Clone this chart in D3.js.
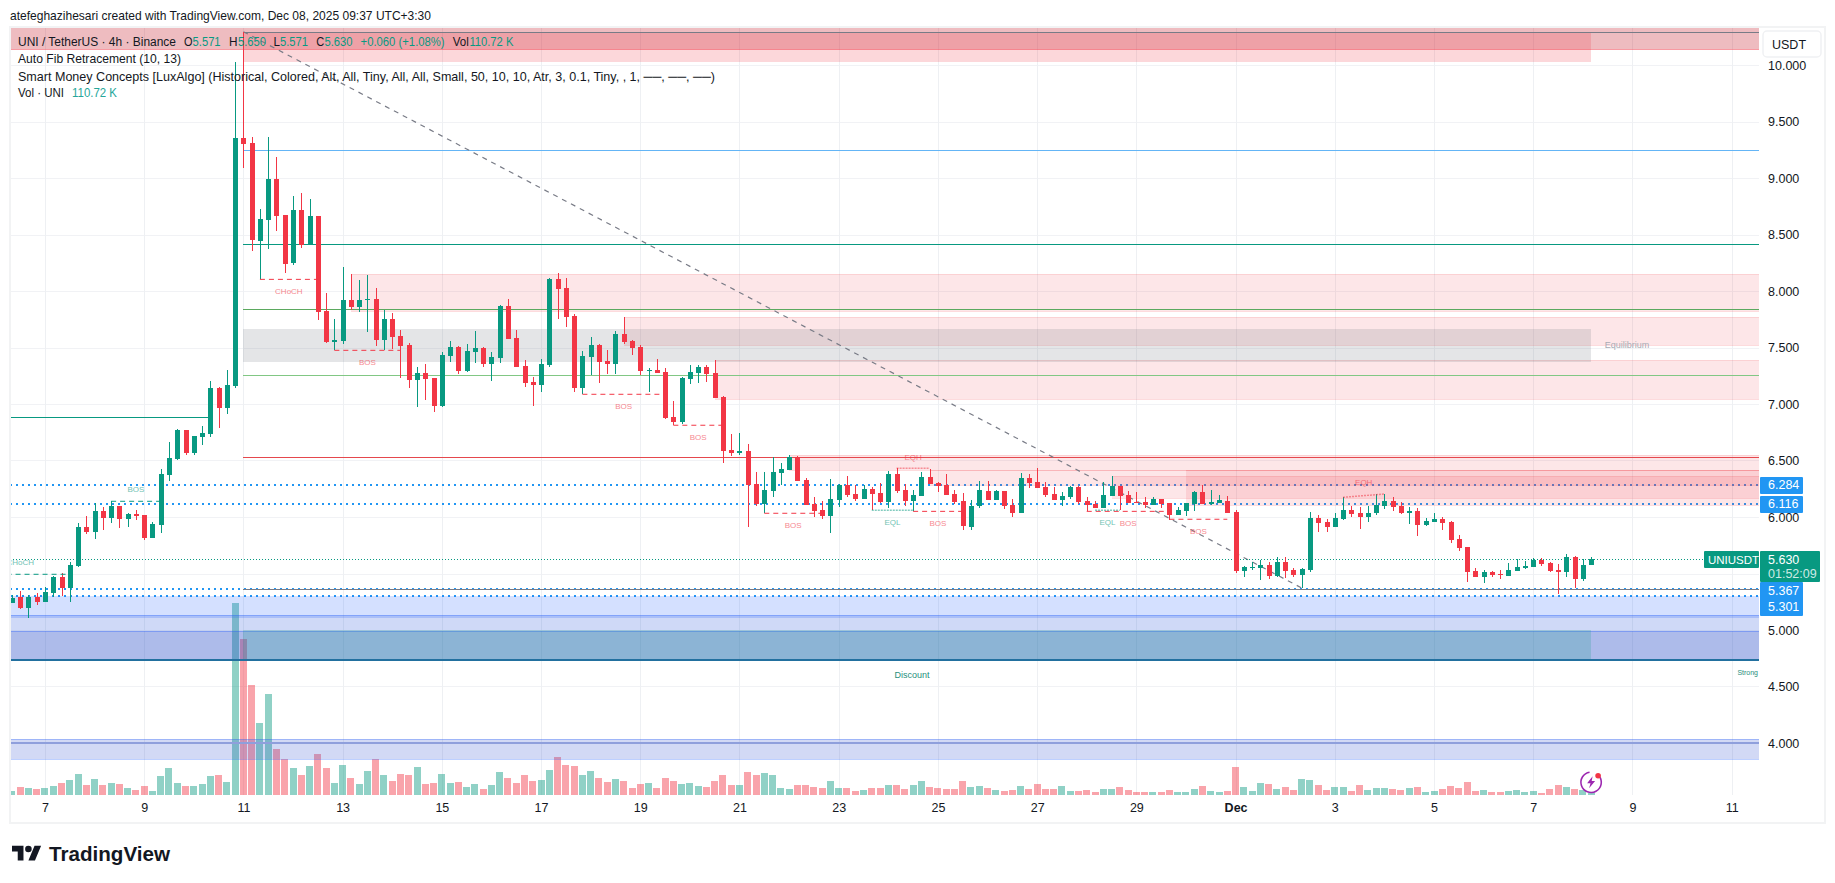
<!DOCTYPE html>
<html>
<head>
<meta charset="utf-8">
<title>UNI / TetherUS 4h</title>
<script src="https://cdn.jsdelivr.net/npm/d3@7/dist/d3.min.js"></script>
<style>
  html, body { margin: 0; padding: 0; background: #fff; }
  svg { display: block; }
  text { font-family: "Liberation Sans", Arial, sans-serif; }
</style>
</head>
<body>
<svg id="chart" width="1835" height="883"></svg>
<script>
// Bars are numbered from the 11 Nov 00:00 session; the earliest bar on screen is -28.
const firstBar = -28;

const opens = [
5.242,5.292,5.198,5.292,5.251,5.330,5.469,5.375,5.566,5.911,
5.870,6.053,5.994,6.097,5.985,6.026,6.017,5.814,5.929,6.372,
6.513,6.770,6.566,6.708,6.735,7.142,6.965,7.159,
9.357,9.307,8.442,8.628,8.991,8.672,8.248,8.717,8.407,8.663,
7.823,7.549,7.558,7.921,7.859,7.921,7.929,7.567,7.752,7.602,
7.522,7.213,7.275,7.230,6.982,7.425,7.505,7.292,7.460,7.496,
7.354,7.407,7.867,7.584,7.336,7.195,7.168,7.345,8.106,8.027,
7.779,7.142,7.416,7.522,7.381,7.354,7.620,7.558,7.505,7.292,
7.301,7.283,6.885,6.841,7.221,7.275,7.328,7.275,7.062,6.593,
6.567,6.584,6.292,6.115,6.230,6.389,6.416,6.531,6.328,6.115,
6.062,6.009,6.151,6.283,6.204,6.159,6.248,6.212,6.133,6.381,
6.239,6.142,6.186,6.354,6.301,6.283,6.204,6.142,5.912,6.097,
6.230,6.151,6.230,6.106,6.035,6.345,6.310,6.266,6.204,6.151,
6.177,6.266,6.142,6.115,6.080,6.186,6.274,6.195,6.133,6.133,
6.106,6.159,6.124,6.018,6.053,6.115,6.221,6.115,6.124,6.142,
6.044,5.522,5.549,5.549,5.575,5.478,5.602,5.531,5.487,5.531,
5.991,5.956,5.912,5.982,6.062,6.035,6.000,6.035,6.097,6.142,
6.097,6.035,6.053,5.929,5.956,5.982,5.956,5.805,5.735,5.522,
5.469,5.513,5.496,5.478,5.522,5.549,5.558,5.620,5.593,5.531,
5.513,5.646,5.451,5.571];

const highs = [
5.310,5.345,5.310,5.327,5.381,5.481,5.501,5.602,5.947,6.009,
6.124,6.088,6.141,6.097,6.035,6.062,6.017,5.956,6.425,6.664,
6.779,6.770,6.717,6.805,7.204,7.150,7.301,10.03,
10.295,9.363,8.725,9.363,9.186,8.672,8.840,8.867,8.814,8.663,
7.982,7.752,8.213,8.151,8.098,8.142,8.027,7.832,7.805,7.655,
7.540,7.328,7.354,7.230,7.460,7.558,7.513,7.531,7.646,7.505,
7.460,7.876,7.929,7.655,7.390,7.239,7.398,8.115,8.159,8.115,
7.797,7.469,7.593,7.531,7.478,7.646,7.770,7.567,7.522,7.319,
7.398,7.319,7.027,7.239,7.345,7.345,7.345,7.390,7.071,6.735,
6.744,6.646,6.398,6.398,6.531,6.478,6.549,6.540,6.345,6.177,
6.142,6.336,6.292,6.363,6.283,6.283,6.266,6.301,6.407,6.434,
6.292,6.239,6.398,6.425,6.310,6.381,6.239,6.212,6.151,6.319,
6.319,6.239,6.230,6.159,6.389,6.381,6.434,6.310,6.266,6.221,
6.274,6.274,6.177,6.142,6.310,6.363,6.274,6.230,6.221,6.177,
6.177,6.159,6.124,6.089,6.124,6.230,6.283,6.239,6.195,6.186,
6.062,5.566,5.602,5.620,5.602,5.646,5.646,5.549,5.549,6.044,
6.018,5.982,6.035,6.177,6.097,6.089,6.097,6.204,6.204,6.177,
6.133,6.089,6.080,5.991,6.035,6.000,5.965,5.841,5.735,5.549,
5.531,5.522,5.531,5.593,5.628,5.611,5.637,5.637,5.602,5.584,
5.673,5.655,5.628,5.650];

const lows = [
5.242,5.186,5.106,5.221,5.251,5.295,5.304,5.251,5.557,5.850,
5.805,5.885,5.947,5.903,5.911,5.973,5.796,5.814,5.858,6.319,
6.504,6.549,6.549,6.637,6.708,6.788,6.912,7.14,
9.091,8.357,8.103,8.371,8.531,8.159,8.230,8.380,8.407,7.744,
7.540,7.478,7.531,7.832,7.814,7.637,7.513,7.478,7.487,7.230,
7.142,6.974,7.036,6.929,6.974,7.372,7.266,7.283,7.363,7.328,
7.204,7.363,7.575,7.328,7.151,6.982,7.106,7.328,7.752,7.682,
7.106,7.089,7.257,7.186,7.266,7.266,7.531,7.434,7.257,7.106,
7.275,6.867,6.814,6.823,7.177,7.186,7.195,7.053,6.478,6.540,
6.549,5.912,6.097,6.033,6.177,6.283,6.416,6.319,6.106,6.000,
5.982,5.858,6.089,6.177,6.142,6.159,6.062,6.124,6.080,6.212,
6.097,6.053,6.186,6.292,6.221,6.195,6.115,5.885,5.885,6.080,
6.151,6.151,6.071,6.000,6.035,6.257,6.257,6.177,6.151,6.097,
6.159,6.115,6.053,6.080,6.080,6.186,6.062,6.124,6.124,6.080,
6.106,6.080,5.974,6.018,6.009,6.053,6.115,6.106,6.124,6.035,
5.505,5.469,5.531,5.443,5.451,5.469,5.460,5.469,5.372,5.513,
5.867,5.867,5.912,5.974,6.000,5.894,5.956,6.018,6.071,6.053,
6.027,5.938,5.832,5.920,5.956,5.885,5.770,5.699,5.425,5.469,
5.416,5.469,5.451,5.478,5.522,5.540,5.558,5.566,5.513,5.319,
5.469,5.372,5.434,5.571];

const closes = [
5.283,5.198,5.292,5.251,5.336,5.469,5.375,5.575,5.911,5.870,
6.053,5.994,6.097,5.985,6.026,6.009,5.814,5.938,6.380,6.522,
6.770,6.566,6.717,6.743,7.142,6.965,7.168,9.356,
9.301,8.451,8.637,8.991,8.663,8.239,8.717,8.407,8.663,7.814,
7.549,7.567,7.921,7.859,7.921,7.929,7.567,7.752,7.593,7.513,
7.213,7.275,7.221,6.982,7.434,7.505,7.292,7.469,7.496,7.354,
7.416,7.867,7.575,7.328,7.186,7.168,7.354,8.106,8.018,7.770,
7.142,7.425,7.522,7.372,7.354,7.620,7.549,7.496,7.292,7.301,
7.275,6.876,6.841,7.230,7.283,7.328,7.266,7.053,6.584,6.567,
6.584,6.283,6.115,6.239,6.398,6.425,6.531,6.319,6.106,6.053,
6.009,6.159,6.283,6.195,6.159,6.248,6.204,6.133,6.381,6.230,
6.142,6.195,6.354,6.292,6.274,6.195,6.133,5.920,6.097,6.239,
6.151,6.230,6.097,6.035,6.345,6.301,6.257,6.195,6.151,6.186,
6.266,6.133,6.106,6.080,6.195,6.274,6.186,6.124,6.124,6.106,
6.159,6.115,6.018,6.062,6.124,6.221,6.115,6.133,6.151,6.035,
5.522,5.558,5.558,5.575,5.478,5.602,5.522,5.487,5.540,5.991,
5.947,5.912,5.991,6.062,6.027,6.000,6.035,6.106,6.142,6.089,
6.035,6.053,5.929,5.965,5.982,5.947,5.797,5.726,5.513,5.469,
5.513,5.487,5.487,5.531,5.558,5.566,5.620,5.584,5.522,5.513,
5.646,5.451,5.575,5.630];

// Volume in thousands of UNI
const volumes = [
220,440,385,330,385,495,660,825,1155,550,
880,550,660,605,385,275,495,220,1045,1485,
660,495,495,605,1045,1100,715,10560,
8580,6050,3960,5555,2530,1980,1485,1100,1595,2255,
1485,660,1650,935,605,1320,1980,1100,770,1155,
1100,1540,605,660,1155,660,715,440,605,330,
550,1265,935,660,1100,770,825,1375,2090,1650,
1595,1100,1320,935,715,880,770,385,605,660,
385,935,770,605,660,495,440,770,1100,550,
550,1265,1100,1210,1100,385,330,550,550,440,
385,770,385,385,220,275,385,385,550,550,
330,550,770,440,385,330,330,770,440,495,
385,275,220,275,495,330,605,330,330,495,
220,220,275,165,330,330,440,275,165,165,
165,165,275,165,165,330,495,220,165,220,
1540,440,220,660,605,330,440,275,880,825,
550,275,440,440,220,550,275,385,385,330,
275,385,440,165,220,330,495,385,715,220,
275,165,165,220,275,165,220,110,330,550,
440,330,275,110.72];

const priceTicks = [4,4.5,5,5.5,6,6.5,7,7.5,8,8.5,9,9.5,10];
const dayTickBars = [-24,-12,0,12,24,36,48,60,72,84,96,108,120,132,144,156,168,180];
const dayTickLabels = ["7","9","11","13","15","17","19","21","23","25","27","29","Dec","3","5","7","9","11"];

// Alert levels drawn as dotted lines and tagged on the price scale
const alertLevels = [6.284, 6.116, 5.367, 5.301];
const lastPrice = 5.630;

// Supply zones: [start bar, top price, bottom price]; they run to the right edge
const supplyZones = [
  [13, 8.150, 7.826], [46, 7.770, 7.525], [57, 7.389, 7.047],
  [66, 6.549, 6.419], [83, 6.419, 6.286], [114, 6.419, 6.109], [105, 6.363, 6.164]
];

// Fibonacci levels from bar 0 to the right edge
const fibUpper = [9.245, 8.413, 7.838, 7.254, 6.528];
const fibTop = 10.295, fibBottom = 5.367;
const equilibrium = [7.660, 7.376];
const premiumRange = [10.295, 10.027];
const discountRange = [5.000, 4.732];

// Structure breaks: [name, start bar, end bar, start price, end price]
const structureDown = [
  ["CHoCH",2,9,8.103,8.103], ["BOS",11,19,7.475,7.475], ["BOS",41,51,7.086,7.086],
  ["BOS",52,58,6.812,6.812], ["BOS",63,70,6.033,6.033], ["BOS",81,87,6.050,6.050],
  ["BOS",102,112,6.050,6.050], ["BOS",112,119,5.980,5.980]
];
const structureUp = [
  ["CHoCH",-33,-21,5.493,5.493], ["BOS",-16,-10,6.139,6.139]
];
const equalHighs = [["EQH",79,83,6.431,6.431], ["EQH",133,138,6.174,6.204]];
const equalLows = [["EQL",76,81,6.059,6.059], ["EQL",103,106,6.059,6.059]];

const UP = "#089981", DOWN = "#f23645";
const bars = opens.map((o, k) => ({
  bar: firstBar + k, o, h: highs[k], l: lows[k], c: closes[k], v: volumes[k]
}));

const svg = d3.select("#chart");
const plot = { left: 10, right: 1759, top: 27, bottom: 795 };

const x = d3.scaleLinear().domain([0, 163]).range([243.4, 1591.1]);
const y = d3.scaleLinear().domain([4, 10]).range([743, 65]);
const yVol = d3.scaleLinear().domain([0, 10560]).range([795, 603]);
const snap = v => Math.round(v) + .5;

svg.append("clipPath").attr("id", "plotClip").append("rect")
  .attr("x", plot.left).attr("y", plot.top)
  .attr("width", plot.right - plot.left).attr("height", plot.bottom - plot.top);

const root = svg.append("g").attr("clip-path", "url(#plotClip)");

// Grid
root.append("g").selectAll("line").data(priceTicks).join("line")
  .attr("x1", plot.left).attr("x2", plot.right)
  .attr("y1", d => snap(y(d))).attr("y2", d => snap(y(d)))
  .attr("stroke", "#f1f2f5");
root.append("g").selectAll("line").data(dayTickBars).join("line")
  .attr("y1", plot.top).attr("y2", plot.bottom)
  .attr("x1", d => snap(x(d))).attr("x2", d => snap(x(d)))
  .attr("stroke", "#eef0f3");

// Volume pane
root.append("g").selectAll("rect").data(bars).join("rect")
  .attr("x", d => Math.round(x(d.bar) - 3.5)).attr("width", 7)
  .attr("y", d => yVol(d.v)).attr("height", d => yVol(0) - yVol(d.v))
  .attr("fill", d => d.c >= d.o ? "rgba(8,153,129,.45)" : "rgba(242,54,69,.45)")
  .attr("shape-rendering", "crispEdges");

// Dotted levels sit under the zones
const levels = root.append("g");
levels.selectAll("line").data(alertLevels).join("line")
  .attr("x1", plot.left).attr("x2", plot.right)
  .attr("y1", d => Math.round(y(d))).attr("y2", d => Math.round(y(d)))
  .attr("stroke", "#2196f3").attr("stroke-width", 2).attr("stroke-dasharray", "2 4");

const zones = root.append("g");
function band(xa, xb, top, bottom, fill) {
  return zones.append("rect").attr("x", Math.round(xa)).attr("width", Math.round(xb) - Math.round(xa))
    .attr("y", Math.round(y(top))).attr("height", Math.round(y(bottom)) - Math.round(y(top))).attr("fill", fill);
}
function hline(xa, xb, price, color, width) {
  const w = width || 1;
  const at = w % 2 ? snap(y(price)) : Math.round(y(price));
  return zones.append("line").attr("x1", Math.round(xa)).attr("x2", Math.round(xb))
    .attr("y1", at).attr("y2", at)
    .attr("stroke", color).attr("stroke-width", w);
}

// Strong high band along the top of the pane
band(plot.left, plot.right, 10.34, 10.144, "rgba(198,32,45,.3)");
hline(plot.left, plot.right, 10.144, "rgba(242,54,69,.5)");
band(x(0), x(163), premiumRange[0], premiumRange[1], "rgba(242,54,69,.2)");

// Supply zones
supplyZones.forEach(([start, top, bottom]) => {
  band(x(start), plot.right, top, bottom, "rgba(242,54,69,.125)");
  hline(x(start), plot.right, top, "rgba(242,54,69,.12)");
  hline(x(start), plot.right, bottom, "rgba(242,54,69,.18)");
});

// Equilibrium
band(x(0), x(163), equilibrium[0], equilibrium[1], "rgba(120,123,134,.2)");

// Demand bands
band(plot.left, plot.right, 5.303, 4.732, "rgba(41,98,255,.2)");
band(plot.left, plot.right, 5.130, 4.732, "rgba(120,100,90,.05)");
band(plot.left, plot.right, 5.130, 5.107, "rgba(41,98,255,.22)");
band(plot.left, plot.right, 4.992, 4.732, "rgba(38,68,185,.2)");
hline(plot.left, plot.right, 4.992, "rgba(41,98,255,.35)");
hline(plot.left, plot.right, 5.130, "rgba(41,98,255,.3)");
band(x(0), x(163), discountRange[0], discountRange[1], "rgba(8,153,129,.2)");
hline(plot.left, plot.right, 4.732, "#22709f", 2);

// Lower demand band around 4.00
band(plot.left, plot.right, 4.033, 3.856, "rgba(60,90,210,.23)");
hline(plot.left, plot.right, 4.033, "rgba(41,98,255,.3)");
hline(plot.left, plot.right, 3.856, "rgba(41,98,255,.3)");
hline(plot.left, plot.right, 4.003, "#8f9fdc", 2);

// Fibonacci retracement levels
const fibColors = ["#64b5f6", UP, "#5ba95f", "#81c784", "#e5484d"];
fibUpper.forEach((p, k) => hline(x(0), plot.right, p, fibColors[k]));
hline(x(0), plot.right, fibTop, "#787b86");
hline(x(0), plot.right, fibBottom, "#787b86");
hline(plot.left, x(-4), 6.888, UP);

// Retracement trend line
root.append("line")
  .attr("x1", x(0)).attr("y1", y(fibTop)).attr("x2", x(128)).attr("y2", y(5.372))
  .attr("stroke", "#787b86").attr("stroke-width", 1.2).attr("stroke-dasharray", "5 5");

// Last price line
root.append("line").attr("x1", plot.left).attr("x2", plot.right)
  .attr("y1", snap(y(lastPrice))).attr("y2", snap(y(lastPrice)))
  .attr("stroke", UP).attr("stroke-dasharray", "1 2");

// Candles
const candles = root.append("g").attr("shape-rendering", "crispEdges");
candles.selectAll("line").data(bars).join("line")
  .attr("x1", d => snap(x(d.bar))).attr("x2", d => snap(x(d.bar)))
  .attr("y1", d => y(d.h)).attr("y2", d => y(d.l))
  .attr("stroke", d => d.c >= d.o ? UP : DOWN);
candles.selectAll("rect").data(bars).join("rect")
  .attr("x", d => Math.round(x(d.bar)) - 2).attr("width", 5)
  .attr("y", d => y(Math.max(d.o, d.c)))
  .attr("height", d => Math.max(1, Math.abs(y(d.o) - y(d.c))))
  .attr("fill", d => d.c >= d.o ? UP : DOWN);

// Market structure lines and tags
function structure(rows, color, dash, width, labelShift, lineOpacity) {
  const g = root.append("g");
  g.selectAll("line").data(rows).join("line")
    .attr("x1", d => x(d[1])).attr("x2", d => x(d[2]))
    .attr("y1", d => y(d[3])).attr("y2", d => y(d[4]))
    .attr("stroke", color).attr("stroke-width", width)
    .attr("stroke-dasharray", dash).attr("opacity", lineOpacity);
  g.selectAll("text").data(rows).join("text")
    .attr("x", d => (x(d[1]) + x(d[2])) / 2)
    .attr("y", d => y(Math.max(d[3], d[4])) + labelShift)
    .attr("text-anchor", "middle").attr("dominant-baseline", "central")
    .attr("font-size", 8).attr("fill", color).attr("opacity", .6)
    .text(d => d[0]);
}
structure(structureDown, DOWN, "5 4", 1, 12, 1);
structure(structureUp, UP, "5 4", 1, -12, 1);
structure(equalHighs, DOWN, "2 1", 1.5, -11, .5);
structure(equalLows, UP, "2 1", 1.5, 12, .5);

// Zone captions
root.append("text").attr("x", 1627).attr("y", y(7.52)).attr("text-anchor", "middle")
  .attr("dominant-baseline", "central").attr("font-size", 9).attr("fill", "#a8abb5").text("Equilibrium");
root.append("text").attr("x", 912).attr("y", y(4.6)).attr("text-anchor", "middle")
  .attr("dominant-baseline", "central").attr("font-size", 9).attr("fill", "#1f8f7d").text("Discount");
root.append("text").attr("x", 1758).attr("y", y(4.62)).attr("text-anchor", "end")
  .attr("dominant-baseline", "central").attr("font-size", 7).attr("fill", "#1f8f7d").text("Strong");

// Frame around pane and scales
svg.append("rect").attr("x", 10).attr("y", 27).attr("width", 1815).attr("height", 796)
  .attr("fill", "none").attr("stroke", "#f2f3f4").attr("stroke-width", 2);

// Price scale; the 5.500 label is left off because the last-price tag covers that spot
const priceAxis = svg.append("g").attr("transform", `translate(${plot.right},0)`)
  .call(d3.axisRight(y).tickValues(priceTicks.filter(p => p !== 5.5))
    .tickFormat(d3.format(".3f")).tickSize(0).tickPadding(9));
priceAxis.select(".domain").remove();
priceAxis.selectAll("text").attr("font-size", 12.5).attr("fill", "#131722")
  .style("font-family", '"Liberation Sans", Arial, sans-serif');

// Time scale
const timeAxis = svg.append("g").attr("transform", `translate(0,${plot.bottom})`)
  .call(d3.axisBottom(x).tickValues(dayTickBars)
    .tickFormat(d => dayTickLabels[dayTickBars.indexOf(d)]).tickSize(0).tickPadding(8));
timeAxis.select(".domain").remove();
timeAxis.selectAll("text").attr("font-size", 12.5).attr("fill", "#131722")
  .style("font-family", '"Liberation Sans", Arial, sans-serif')
  .attr("font-weight", d => d === 120 ? 700 : 400);

// Price tags
function tag(xa, ya, w, h, fill, r) {
  svg.append("rect").attr("x", xa).attr("y", ya).attr("width", w).attr("height", h)
    .attr("fill", fill).attr("rx", r || 1);
}
function tagText(xa, ya, s, fill, size) {
  svg.append("text").attr("x", xa).attr("y", ya).attr("dominant-baseline", "central")
    .attr("font-size", size || 12.5).attr("fill", fill).text(s);
}
const fmt = d3.format(".3f");
alertLevels.slice(0, 2).forEach(p => {
  tag(1760, Math.round(y(p)) - 8, 43, 17, "#2196f3");
  tagText(1768, y(p), fmt(p), "#fff");
});
tag(1760, 582, 43, 34, "#2196f3");
tagText(1768, 590.7, fmt(alertLevels[2]), "#fff");
tagText(1768, 607.3, fmt(alertLevels[3]), "#fff");
tag(1704, 551, 55, 17, UP);
tagText(1708, 559.5, "UNIUSDT", "#fff", 11.5);
tag(1760, 551, 60, 31, UP);
tagText(1768, 559.5, fmt(lastPrice), "#fff");
tagText(1768, 574, "01:52:09", "#cdeae5");

// Currency button
svg.append("rect").attr("x", 1763).attr("y", 31).attr("width", 58).attr("height", 26).attr("rx", 4)
  .attr("fill", "#fff").attr("stroke", "#f0f1f3").attr("stroke-width", 1.5);
tagText(1772, 44.5, "USDT", "#131722");

// Caption and legend
function label(s, xa, ya, fill, size, width) {
  const t = svg.append("text").attr("x", xa).attr("y", ya).attr("dominant-baseline", "central")
    .attr("font-size", size).attr("fill", fill).text(s);
  if (width) t.attr("textLength", width).attr("lengthAdjust", "spacingAndGlyphs");
  return t;
}
const ink = "#131722", valueInk = UP;
label("atefeghazihesari created with TradingView.com, Dec 08, 2025 09:37 UTC+3:30", 10, 15, ink, 13, 421);
label("UNI / TetherUS · 4h · Binance", 18, 41.7, ink, 12, 158);
label("O", 184, 41.7, ink, 12, 8.5);
label("5.571", 192.6, 41.7, valueInk, 12, 28);
label("H", 229, 41.7, ink, 12, 8.5);
label("5.650", 238, 41.7, valueInk, 12, 28);
label("L", 273.6, 41.7, ink, 12, 6.5);
label("5.571", 280, 41.7, valueInk, 12, 28);
label("C", 316.3, 41.7, ink, 12, 8);
label("5.630", 324.5, 41.7, valueInk, 12, 28);
label("+0.060 (+1.08%)", 360.6, 41.7, valueInk, 12, 84);
label("Vol", 452.7, 41.7, ink, 12, 16);
label("110.72 K", 469.4, 41.7, valueInk, 12, 44);
label("Auto Fib Retracement (10, 13)", 18, 58.7, ink, 13, 163);
label("Smart Money Concepts [LuxAlgo] (Historical, Colored, Alt, All, Tiny, All, All, Small, 50, 10, 10, Atr, 3, 0.1, Tiny, , 1, ──, ──, ──)", 18, 76, ink, 13, 697);
label("Vol · UNI", 18, 92.7, ink, 13, 46);
label("110.72 K", 72, 92.7, "#26a69a", 13, 45);

// Brand mark
const brand = svg.append("g").attr("transform", "translate(12,842.4) scale(.82)").attr("fill", "#131722");
brand.append("path").attr("d", "M14 22H7V11H0V4h14v18zM28 22h-8l7.5-18h8L28 22z");
brand.append("circle").attr("cx", 20).attr("cy", 8).attr("r", 4);
svg.append("text").attr("x", 49).attr("y", 853).attr("dominant-baseline", "central")
  .attr("font-size", 21).attr("font-weight", 700).attr("fill", "#131722")
  .attr("textLength", 121).attr("lengthAdjust", "spacingAndGlyphs").text("TradingView");

// Event badge over the latest bar
const badge = svg.append("g").attr("transform", `translate(${x(163)},782.3)`);
badge.append("circle").attr("r", 10.2).attr("fill", "#fff").attr("fill-opacity", .75);
badge.append("path").attr("d", d3.arc()({ innerRadius: 9.4, outerRadius: 11, startAngle: 0.9, endAngle: 2 * Math.PI - 0.15 }))
  .attr("fill", "#9c27b0");
badge.append("path").attr("d", "M1.5 -6 L-4 1 L-0.6 1 L-2 6 L4 -1.4 L0.6 -1.4 Z").attr("fill", "#9c27b0");
badge.append("circle").attr("cx", 7).attr("cy", -6.6).attr("r", 2.8).attr("fill", "#f23645");
</script>
</body>
</html>
